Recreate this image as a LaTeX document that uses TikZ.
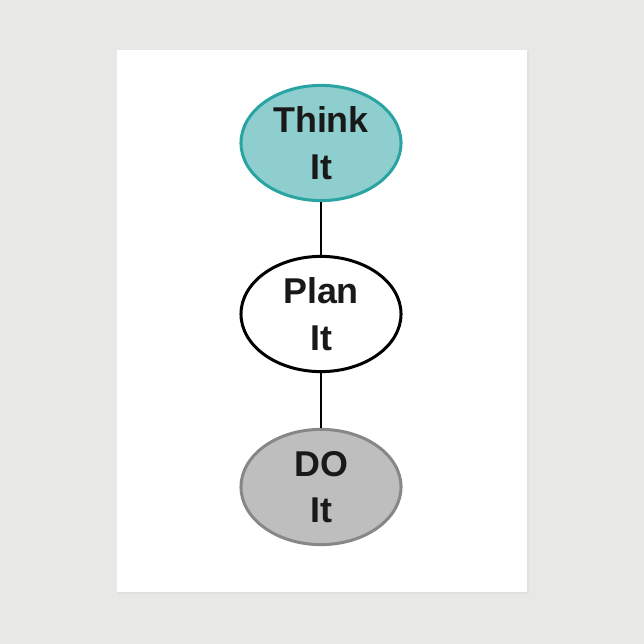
\documentclass[tikz,border=0pt]{standalone}
\usepackage{fontspec}
\setmainfont{Liberation Sans}
\usetikzlibrary{shapes.geometric}

\definecolor{paper}{RGB}{232,232,230}
\definecolor{thinkfill}{RGB}{142,206,206}
\definecolor{thinkline}{RGB}{42,163,163}
\definecolor{dofill}{RGB}{190,190,190}
\definecolor{doline}{RGB}{135,135,135}
\definecolor{ink}{RGB}{25,25,25}

\tikzset{
	bubble/.style={ellipse, draw, line width = 0.75mm, minimum width = 4cm, minimum height = 2.88cm,
		align=center, text=ink, font=\bfseries\fontsize{25.5}{33}\selectfont, inner sep=0pt},
	link/.style={line width = 0.35mm}
}

\begin{document}
\begin{tikzpicture}[x=0.025cm, y=-0.025cm]
	
	\fill[paper] (0,0) rectangle (644,644);
	\fill[black!12] (118,51) rectangle (529,594);
	\fill[white] (117,50) rectangle (527,592);
	
	\node[bubble, fill=thinkfill, draw=thinkline] (think) at (321,143) {Think\\It};
	\node[bubble, fill=white, draw=black] (plan) at (321,314) {Plan\\It};
	\node[bubble, fill=dofill, draw=doline] (do) at (321,487) {DO\\It};
	
	\draw[link] (think) -- (plan);
	\draw[link] (plan) -- (do);
	
\end{tikzpicture}
\end{document}
